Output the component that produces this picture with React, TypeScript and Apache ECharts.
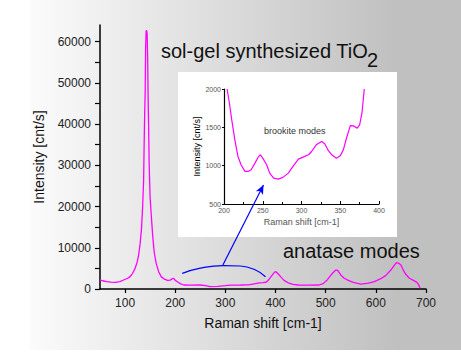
import React, { useEffect, useRef } from "react";
import * as echarts from "echarts";

// Main Raman spectrum (Raman shift cm-1, intensity cnt/s)
const mainShift = [50, 55, 63, 72, 80, 90, 97, 105, 110, 115, 120, 124, 127, 130, 133, 135, 137, 138, 139, 140, 141, 142, 143, 144, 145, 146, 147, 148, 149, 150, 152, 155, 158, 162, 167, 172, 178, 185, 190, 194, 197, 200, 205, 210, 217, 230, 250, 260, 270, 285, 300, 310, 330, 345, 355, 365, 375, 382, 388, 393, 398, 401, 405, 410, 417, 425, 435, 445, 465, 487, 495, 503, 510, 515, 520, 524, 530, 537, 545, 555, 570, 585, 597, 610, 620, 630, 637, 641, 645, 650, 655, 660, 667, 675, 682, 686, 688];
const mainIntensity = [2200, 2000, 1770, 1650, 1620, 1800, 2180, 2600, 3000, 3800, 5000, 6500, 8200, 11000, 15000, 20000, 26400, 35000, 42000, 47400, 58700, 62500, 62700, 62000, 56000, 46000, 39300, 30500, 26000, 22000, 18300, 13000, 9000, 6200, 4200, 3000, 2400, 2100, 2150, 2500, 2600, 2100, 1700, 1300, 970, 950, 970, 800, 600, 650, 800, 950, 970, 1000, 1200, 1400, 1550, 1700, 2500, 3300, 4100, 4200, 3700, 3000, 2100, 1500, 1100, 970, 950, 970, 1300, 2200, 3300, 4000, 4600, 4500, 3400, 2600, 2100, 1600, 1200, 1400, 1800, 2500, 3300, 4600, 5800, 6400, 6300, 5800, 4500, 3500, 2600, 2100, 1600, 900, 200];

// Inset: brookite region
const insetShift = [204, 207, 210, 214, 218, 222, 227, 231, 235, 240, 244, 247, 250, 255, 259, 264, 270, 276, 283, 289, 296, 302, 309, 313, 319, 326, 330, 334, 339, 345, 350, 354, 358, 363, 367, 372, 375, 378, 381];
const insetIntensity = [2000, 1814, 1597, 1337, 1120, 1012, 925, 925, 947, 1033, 1111, 1142, 1098, 1012, 903, 838, 825, 847, 903, 990, 1085, 1111, 1142, 1185, 1272, 1315, 1285, 1207, 1142, 1098, 1128, 1207, 1358, 1523, 1519, 1489, 1532, 1684, 2000];

// Blue annotation arc under the brookite region (main axes coordinates)
const arcShift = [214, 250, 296, 330, 360, 380];
const arcIntensity = [3800, 5080, 5690, 5570, 4600, 2980];
// Arrow from arc to inset (main axes coordinates)
const arrowFrom = [295, 5800];
const arrowTo = [376, 25200];

const mainXTicks = [100, 200, 300, 400, 500, 600, 700];
const mainYLabels = [0, 10000, 20000, 30000, 40000, 50000, 60000];
const mainYTicks = [0, 5000, 10000, 15000, 20000, 25000, 30000, 35000, 40000, 45000, 50000, 55000, 60000];

const FONT = "Liberation Sans, Arial, sans-serif";

export default function App() {
  const ref = useRef<HTMLDivElement>(null);
  useEffect(() => {
    if (!ref.current) return;
    const chart = echarts.init(ref.current, undefined, { renderer: "svg" });
    const zip = (a: number[], b: number[]) => a.map((v, i) => [v, b[i]]);
    chart.setOption({
      animation: false,
      textStyle: { fontFamily: FONT },
      graphic: [
        {
          type: "rect",
          z: -10,
          shape: { x: 30, y: 0, width: 431, height: 350 },
          style: {
            fill: new echarts.graphic.LinearGradient(0, 0, 1, 0, [
              { offset: 0, color: "#fbfbfb" },
              { offset: 0.85, color: "#c0c0c0" },
              { offset: 1, color: "#c0c0c0" },
            ]),
          },
        },
        {
          type: "rect",
          z: 1,
          shape: { x: 178, y: 72, width: 219, height: 165 },
          style: { fill: "#ffffff" },
        },
        {
          type: "text",
          z: 5,
          x: 161,
          y: 51,
          style: { text: "sol-gel synthesized TiO", font: "20px " + FONT, fill: "#111", verticalAlign: "middle" },
        },
        {
          type: "text",
          z: 5,
          x: 367,
          y: 60,
          style: { text: "2", font: "20px " + FONT, fill: "#111", verticalAlign: "middle" },
        },
        {
          type: "text",
          z: 5,
          x: 283,
          y: 251,
          style: { text: "anatase modes", font: "20px " + FONT, fill: "#111", verticalAlign: "middle" },
        },
        {
          type: "text",
          z: 5,
          x: 264,
          y: 131,
          style: { text: "brookite modes", font: "9px " + FONT, fill: "#333", verticalAlign: "middle" },
        },
      ],
      grid: [
        { left: 100, top: 25, width: 326, height: 264 },
        { left: 224, top: 89, width: 155, height: 115 },
      ],
      xAxis: [
        {
          type: "value",
          gridIndex: 0,
          min: 50,
          max: 700,
          splitLine: { show: false },
          axisLine: { lineStyle: { color: "#000", width: 1.5 } },
          axisTick: { length: 4, customValues: mainXTicks, lineStyle: { color: "#000", width: 1.2 } },
          axisLabel: { customValues: mainXTicks, color: "#222", fontSize: 12, margin: 8, formatter: (v: number) => String(v) },
          name: "Raman shift [cm-1]",
          nameLocation: "middle",
          nameGap: 27,
          nameTextStyle: { fontSize: 14, color: "#111" },
        },
        {
          type: "value",
          gridIndex: 1,
          min: 200,
          max: 400,
          interval: 50,
          z: 3,
          splitLine: { show: false },
          axisLine: { lineStyle: { color: "#000", width: 1.2 } },
          axisTick: { inside: true, length: 3, lineStyle: { color: "#000" } },
          minorTick: { show: true, splitNumber: 2, length: 2, lineStyle: { color: "#000" } },
          axisLabel: { color: "#555", fontSize: 7, margin: 3, formatter: (v: number) => String(v) },
          name: "Raman shift [cm-1]",
          nameLocation: "middle",
          nameGap: 13,
          nameTextStyle: { fontSize: 9, color: "#555" },
        },
      ],
      yAxis: [
        {
          type: "value",
          gridIndex: 0,
          min: 0,
          max: 64000,
          interval: 10000,
          splitLine: { show: false },
          axisLine: { show: true, lineStyle: { color: "#000", width: 1.5 } },
          axisTick: { show: true, length: 5, customValues: mainYTicks, lineStyle: { color: "#000", width: 1.2 } },
          axisLabel: { customValues: mainYLabels, color: "#222", fontSize: 12, margin: 9, formatter: (v: number) => String(v) },
          name: "Intensity [cnt/s]",
          nameLocation: "middle",
          nameGap: 54,
          nameTextStyle: { fontSize: 14, color: "#111" },
        },
        {
          type: "value",
          gridIndex: 1,
          min: 500,
          max: 2000,
          interval: 500,
          z: 3,
          splitLine: { show: false },
          axisLine: { show: true, lineStyle: { color: "#000", width: 1.2 } },
          axisTick: { show: true, length: 2, lineStyle: { color: "#000" } },
          axisLabel: { color: "#555", fontSize: 7, margin: 3, formatter: (v: number) => String(v) },
          name: "Intensity [cnt/s]",
          nameLocation: "middle",
          nameGap: 21,
          nameTextStyle: { fontSize: 9, color: "#000" },
        },
      ],
      series: [
        {
          type: "line",
          xAxisIndex: 0,
          yAxisIndex: 0,
          data: zip(mainShift, mainIntensity),
          showSymbol: false,
          symbol: "none",
          z: 4,
          lineStyle: { color: "#ff00ff", width: 1.3 },
        },
        {
          type: "line",
          xAxisIndex: 1,
          yAxisIndex: 1,
          data: zip(insetShift, insetIntensity),
          showSymbol: false,
          symbol: "none",
          z: 4,
          lineStyle: { color: "#ff00ff", width: 1.2 },
        },
        {
          type: "line",
          xAxisIndex: 0,
          yAxisIndex: 0,
          data: zip(arcShift, arcIntensity),
          smooth: true,
          showSymbol: false,
          symbol: "none",
          z: 6,
          lineStyle: { color: "#0000ff", width: 1.2 },
          markLine: {
            silent: true,
            symbol: ["none", "arrow"],
            symbolSize: [6, 9],
            label: { show: false },
            lineStyle: { color: "#0000ff", width: 1.2, type: "solid" },
            data: [[{ coord: arrowFrom }, { coord: arrowTo }]],
          },
        },
      ],
    });
    return () => chart.dispose();
  }, []);
  return <div ref={ref} style={{ position: "fixed", left: 0, top: 0, width: 461, height: 358, background: "#fff" }} />;
}
